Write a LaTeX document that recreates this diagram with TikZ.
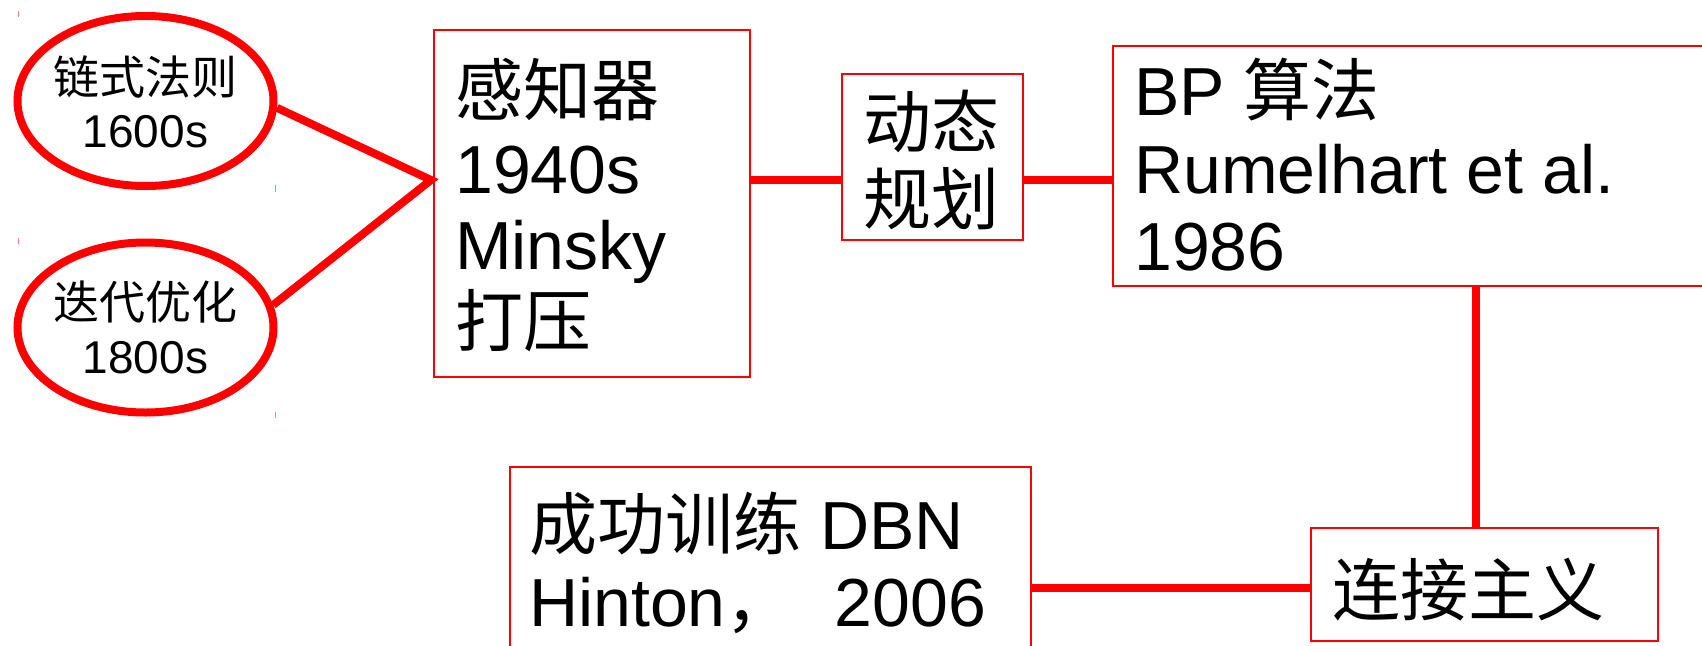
\documentclass[tikz,border=0pt]{standalone}
\usepackage{fontspec}
\setmainfont{Liberation Sans}
\newfontfamily\cjk{Noto Sans CJK SC}
\usetikzlibrary{shapes.geometric}
\begin{document}
\begin{tikzpicture}[x=1pt,y=-1pt,
  oval/.style={ellipse, draw=red, line width=8pt, minimum width=256pt, minimum height=170pt, inner sep=0pt},
  box/.style={rectangle, draw=red, line width=2pt, inner sep=0pt},
  link/.style={draw=red, line width=8pt},
  big/.style={font=\fontsize{68}{76}\selectfont, inner sep=0pt, anchor=base west},
  small/.style={font=\fontsize{46}{53}\selectfont, inner sep=0pt, anchor=base},
  tick/.style={draw=red!50, line width=1pt}]
\useasboundingbox (0,0) rectangle (1702,645);
\clip (0,0) rectangle (1702,645);
% ellipses
\node[oval] (e1) at (145.5,101) {};
\node[oval] (e2) at (145.5,327.5) {};
% boxes
\node[box, minimum width=316pt, minimum height=347pt] (p) at (591.5,203) {};
\node[box, minimum width=181pt, minimum height=166pt] (d) at (932,157) {};
\node[box, minimum width=600pt, minimum height=240pt] (bp) at (1413,165.5) {};
\node[box, minimum width=347pt, minimum height=113pt] (c) at (1484,584.5) {};
\node[box, minimum width=521pt, minimum height=200pt] (dbn) at (770,567) {};
% texts
\node[small] (t1a) at (145.5,94) {\cjk 链式法则};
\node[small] (t1b) at (145.5,147) {1600s};
\node[small] (t2a) at (145.5,319) {\cjk 迭代优化};
\node[small] (t2b) at (145.5,373) {1800s};
\node[big] (p1) at (455,115) {\cjk 感知器};
\node[big] (p2) at (455,193) {1940s};
\node[big] (p3) at (455,269) {Minsky};
\node[big] (p4) at (455,346) {\cjk 打压};
\node[big, anchor=base] (d1) at (931,147) {\cjk 动态};
\node[big, anchor=base] (d2) at (931,224) {\cjk 规划};
\node[big] (b1) at (1134,115) {BP {\cjk 算法}};
\node[big] (b2) at (1134,193) {Rumelhart et al.};
\node[big] (b3) at (1134,270) {1986};
\node[big] (c1) at (1332,615) {\cjk 连接主义};
\node[big] (n1) at (529,549) {{\cjk 成功训练} DBN};
\node[big] (n2) at (529,626) {Hinton{\cjk ，}\hspace{41pt}2006};
% connectors
\coordinate (pj) at (431,180);
\draw[link] (e1.-3) -- (pj) -- (e2.10);
\draw[link] (p.east |- pj) -- (d.west |- pj);
\draw[link] (d.east |- pj) -- (bp.west |- pj);
\coordinate (vx) at (1476,0);
\draw[link] (bp.south -| vx) -- (c.north -| vx);
\coordinate (hy) at (0,588);
\draw[link] (dbn.east |- hy) -- (c.west |- hy);
% small marks
\draw[tick] (18,11) -- (18,17);
\draw[tick] (275,185) -- (275,192);
\draw[tick] (18,238) -- (18,244);
\draw[tick] (275,412) -- (275,418);
\end{tikzpicture}
\end{document}
